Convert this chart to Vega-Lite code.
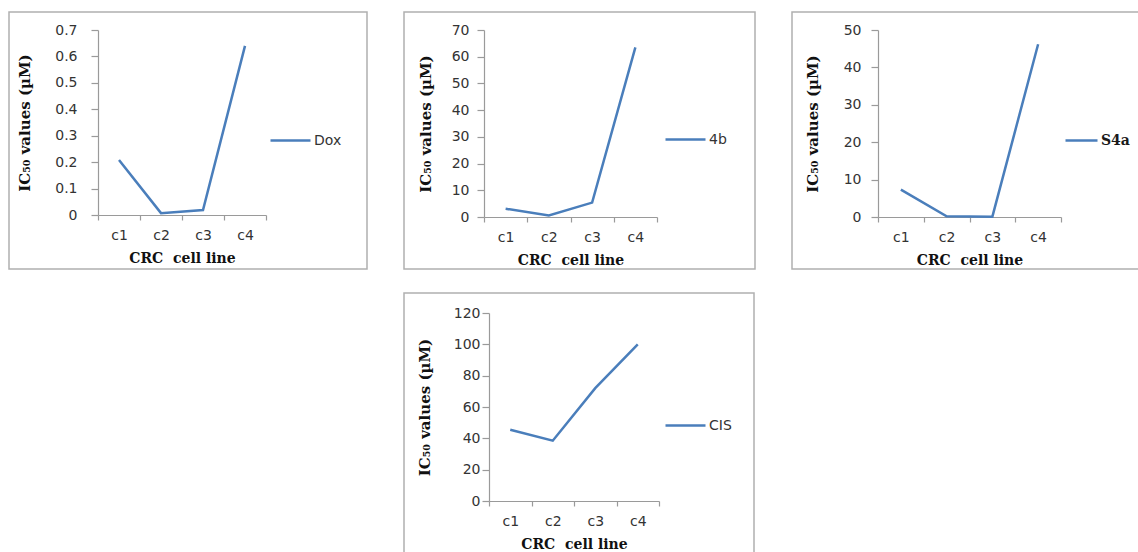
{
  "$schema": "https://vega.github.io/schema/vega-lite/v6.json",
  "padding": {"left": 8, "top": 11, "right": 0, "bottom": 0},
  "background": "white",
  "datasets": {
    "ic50": [
      {"drug": "Dox", "line": "c1", "value": 0.208},
      {"drug": "Dox", "line": "c2", "value": 0.007},
      {"drug": "Dox", "line": "c3", "value": 0.019},
      {"drug": "Dox", "line": "c4", "value": 0.64},
      {"drug": "4b", "line": "c1", "value": 3.1},
      {"drug": "4b", "line": "c2", "value": 0.6},
      {"drug": "4b", "line": "c3", "value": 5.4},
      {"drug": "4b", "line": "c4", "value": 63.5},
      {"drug": "S4a", "line": "c1", "value": 7.3},
      {"drug": "S4a", "line": "c2", "value": 0.2},
      {"drug": "S4a", "line": "c3", "value": 0.1},
      {"drug": "S4a", "line": "c4", "value": 46.2},
      {"drug": "CIS", "line": "c1", "value": 45.5},
      {"drug": "CIS", "line": "c2", "value": 38.5},
      {"drug": "CIS", "line": "c3", "value": 72},
      {"drug": "CIS", "line": "c4", "value": 100}
    ]
  },
  "config": {
    "view": {"stroke": "#b0b0b0", "strokeWidth": 1.5},
    "axis": {
      "domainColor": "#9a9a9a",
      "tickColor": "#9a9a9a",
      "domainWidth": 1.2,
      "tickWidth": 1.2,
      "grid": false,
      "labelFont": "DejaVu Sans",
      "labelFontSize": 14,
      "labelColor": "#333333",
      "titleFont": "DejaVu Serif",
      "titleFontWeight": "bold",
      "titleFontSize": 14,
      "titleColor": "#111111"
    },
    "axisX": {"tickSize": 5, "labelPadding": 8, "titlePadding": 9, "labelAngle": 0, "tickBand": "extent"},
    "axisY": {"tickSize": 7, "format": "~r", "titleFontSize": 15},
    "legend": {
      "orient": "none",
      "symbolType": "stroke",
      "symbolSize": 1600,
      "symbolStrokeWidth": 2.5,
      "labelFont": "DejaVu Sans",
      "labelFontSize": 14,
      "labelColor": "#333333",
      "labelOffset": 2,
      "title": null
    },
    "line": {"strokeWidth": 2.5}
  },
  "vconcat": [
    {
      "hconcat": [
        {
          "width": 358,
          "height": 257,
          "data": {"name": "ic50"},
          "transform": [{"filter": "datum.drug === 'Dox'"}],
          "mark": {"type": "line"},
          "encoding": {
            "x": {"field": "line", "type": "nominal", "bandPosition": 0.5,
              "scale": {"type": "band", "range": [89, 257], "paddingInner": 0, "paddingOuter": 0},
              "axis": {"title": "CRC\u00a0 cell line", "offset": -54}},
            "y": {"field": "value", "type": "quantitative",
              "scale": {"domain": [0, 0.7], "range": [203, 18], "nice": false},
              "axis": {"title": "IC\u2085\u2080 values (\u00b5M)", "offset": -89, "labelPadding": 14, "titlePadding": 22, "values": [0, 0.1, 0.2, 0.3, 0.4, 0.5, 0.6, 0.7]}},
            "color": {"field": "drug", "type": "nominal", "scale": {"range": ["#4A7EBB"]},
              "legend": {"legendX": 260, "legendY": 107}}
          }
        },
        {
          "width": 351,
          "height": 257,
          "data": {"name": "ic50"},
          "transform": [{"filter": "datum.drug === '4b'"}],
          "mark": {"type": "line"},
          "encoding": {
            "x": {"field": "line", "type": "nominal", "bandPosition": 0.5,
              "scale": {"type": "band", "range": [80, 253], "paddingInner": 0, "paddingOuter": 0},
              "axis": {"title": "CRC\u00a0 cell line", "offset": -52}},
            "y": {"field": "value", "type": "quantitative",
              "scale": {"domain": [0, 70], "range": [205, 18], "nice": false},
              "axis": {"title": "IC\u2085\u2080 values (\u00b5M)", "offset": -80, "labelPadding": 8, "titlePadding": 18, "values": [0, 10, 20, 30, 40, 50, 60, 70]}},
            "color": {"field": "drug", "type": "nominal", "scale": {"range": ["#4A7EBB"]},
              "legend": {"legendX": 260, "legendY": 106}}
          }
        },
        {
          "width": 357,
          "height": 257,
          "data": {"name": "ic50"},
          "transform": [{"filter": "datum.drug === 'S4a'"}],
          "mark": {"type": "line"},
          "encoding": {
            "x": {"field": "line", "type": "nominal", "bandPosition": 0.5,
              "scale": {"type": "band", "range": [86, 269], "paddingInner": 0, "paddingOuter": 0},
              "axis": {"title": "CRC\u00a0 cell line", "offset": -52}},
            "y": {"field": "value", "type": "quantitative",
              "scale": {"domain": [0, 50], "range": [205, 18], "nice": false},
              "axis": {"title": "IC\u2085\u2080 values (\u00b5M)", "offset": -86, "labelPadding": 10, "titlePadding": 23, "values": [0, 10, 20, 30, 40, 50]}},
            "color": {"field": "drug", "type": "nominal", "scale": {"range": ["#4A7EBB"]},
              "legend": {"legendX": 272, "legendY": 111, "symbolSize": 1024, "labelFont": "DejaVu Serif", "labelFontWeight": "bold", "labelColor": "#1a1a1a"}}
          }
        }
      ],
      "spacing": 37,
      "bounds": "flush",
      "resolve": {"scale": {"color": "independent"}, "legend": {"color": "independent"}}
    },
    {
      "hconcat": [
        {
          "width": 358,
          "height": 262,
          "data": {"values": []},
          "mark": {"type": "point"},
          "view": {"stroke": null}
        },
        {
          "width": 350,
          "height": 262,
          "data": {"name": "ic50"},
          "transform": [{"filter": "datum.drug === 'CIS'"}],
          "mark": {"type": "line"},
          "encoding": {
            "x": {"field": "line", "type": "nominal", "bandPosition": 0.5,
              "scale": {"type": "band", "range": [85, 255], "paddingInner": 0, "paddingOuter": 0},
              "axis": {"title": "CRC\u00a0 cell line", "offset": -54}},
            "y": {"field": "value", "type": "quantitative",
              "scale": {"domain": [0, 120], "range": [208, 20], "nice": false},
              "axis": {"title": "IC\u2085\u2080 values (\u00b5M)", "offset": -85, "labelPadding": 2, "titlePadding": 21, "values": [0, 20, 40, 60, 80, 100, 120]}},
            "color": {"field": "drug", "type": "nominal", "scale": {"range": ["#4A7EBB"]},
              "legend": {"legendX": 260, "legendY": 111}}
          }
        }
      ],
      "spacing": 37,
      "bounds": "flush",
      "resolve": {"scale": {"color": "independent"}, "legend": {"color": "independent"}}
    }
  ],
  "spacing": 22,
  "resolve": {"scale": {"color": "independent"}, "legend": {"color": "independent"}}
}
